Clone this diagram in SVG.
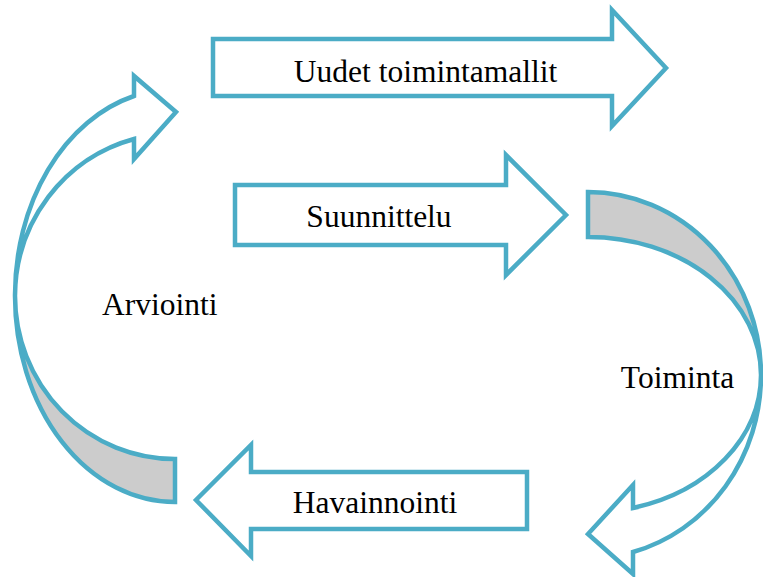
<svg xmlns="http://www.w3.org/2000/svg" width="763" height="577" viewBox="0 0 763 577">
<style>
.sh{stroke:#4BACC6;stroke-width:4.5;stroke-linejoin:miter;fill:#ffffff}
.back{fill:#cccccc}
</style>
<rect width="763" height="577" fill="#ffffff"/>
<g id="connectors">
<g id="arviointi-arrow">
<path class="sh back" d="M175,502 A160,206 0 0 1 15,296 A160,163 0 0 0 175,459 Z"/>
<path class="sh" d="M15,296 A160,206 0 0 1 134,96 L134,76 L176,112 L134,159 L134,139 A160,163 0 0 0 15,296 Z"/>
</g>
<g id="toiminta-arrow">
<path class="sh back" d="M588,192 A173,183 0 0 1 761,375 A173,138 0 0 0 588,237 Z"/>
<path class="sh" d="M761,375 A173,183 0 0 1 633,552 L633,574 L588,534 L633,485 L633,508 A173,138 0 0 0 761,375 Z"/>
</g>
</g>
<g id="uudet">
<path class="sh" d="M213,39 L612,39 L612,10 L666,68 L612,126 L612,96 L213,96 Z"/>
<text x="425.5" y="82" font-family="Liberation Serif, Times New Roman, serif" font-size="31.5" text-anchor="middle" fill="#000000">Uudet toimintamallit</text>
</g>
<g id="suunnittelu">
<path class="sh" d="M235,185 L506,185 L506,155 L566,215 L506,275 L506,245 L235,245 Z"/>
<text x="379" y="227" font-family="Liberation Serif, Times New Roman, serif" font-size="31.5" text-anchor="middle" fill="#000000">Suunnittelu</text>
</g>
<g id="havainnointi">
<path class="sh" d="M527,472 L251,472 L251,445 L196,500 L251,556 L251,529 L527,529 Z"/>
<text x="375" y="513" font-family="Liberation Serif, Times New Roman, serif" font-size="31.5" text-anchor="middle" fill="#000000">Havainnointi</text>
</g>
<g id="arviointi">
<text x="159.7" y="315" font-family="Liberation Serif, Times New Roman, serif" font-size="31.5" text-anchor="middle" fill="#000000">Arviointi</text>
</g>
<g id="toiminta">
<text x="677.5" y="388" font-family="Liberation Serif, Times New Roman, serif" font-size="31.5" text-anchor="middle" fill="#000000">Toiminta</text>
</g>
</svg>
